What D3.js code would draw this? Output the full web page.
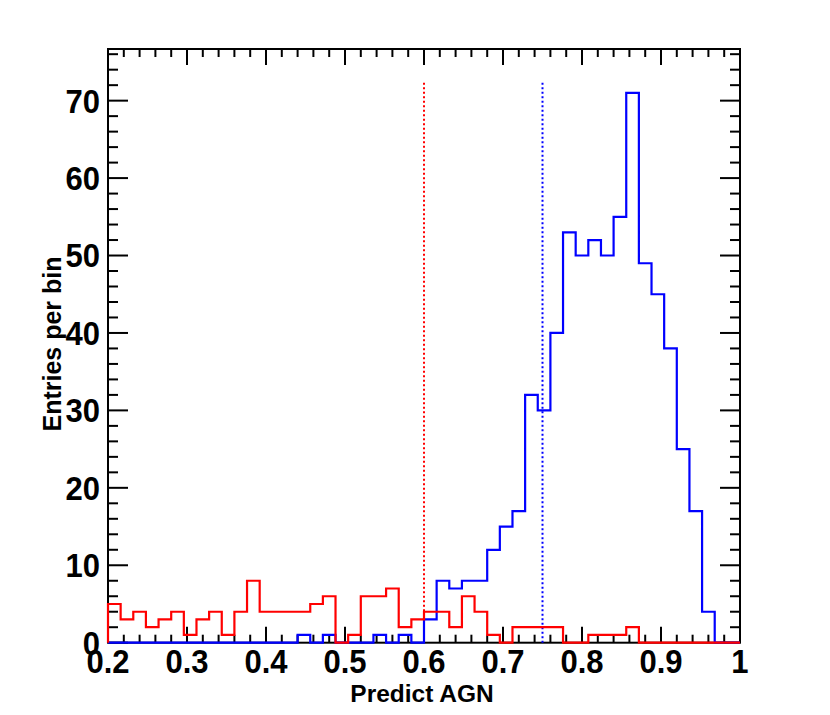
<!DOCTYPE html>
<html>
<head>
<meta charset="utf-8">
<script src="https://cdn.jsdelivr.net/npm/d3@7"></script>
<style>
  html, body { margin: 0; padding: 0; background: #fff; }
  text { font-family: "Liberation Sans", Arial, Helvetica, sans-serif; font-weight: bold; fill: #000; }
</style>
</head>
<body>
<svg id="chart" width="830" height="715"></svg>
<script>
// ---- data ----
const binStart = 0.2;
const binWidth = 0.016;
const redCounts = [5,3,4,2,3,4,1,3,4,1,4,8,4,4,4,4,5,6,0,1,6,6,7,2,3,4,4,2,6,4,1,0,2,2,2,2,0,0,1,1,1,2,0,0,0,0,0,0,0,0];
const blueCounts = [0,0,0,0,0,0,0,0,0,0,0,0,0,0,0,1,0,1,0,0,0,1,0,1,0,3,8,7,8,8,12,15,17,32,30,40,53,50,52,50,55,71,49,45,38,25,17,4,0,0];
const cutLines = [ {x: 0.6, top: 72.6, color: "red"}, {x: 0.75, top: 72.6, color: "blue"} ];
const xMajorTicks = [0.2,0.3,0.4,0.5,0.6,0.7,0.8,0.9,1.0];
const xTickLabels = ["0.2","0.3","0.4","0.5","0.6","0.7","0.8","0.9","1"];
const yMajorTicks = [0,10,20,30,40,50,60,70];
const yTickLabels = ["0","10","20","30","40","50","60","70"];
const xTitle = "Predict AGN";
const yTitle = "Entries per bin";

// ---- layout ----
const L = 108, R = 740, T = 49, B = 642.7;
const svg = d3.select("#chart");
const x = d3.scaleLinear().domain([0.2, 1.0]).range([L, R]);
const y = d3.scaleLinear().domain([0, 76.67]).range([B, T]);

const xMinor = d3.range(0.2, 1.0001, 0.02).filter(v => !xMajorTicks.some(m => Math.abs(m - v) < 1e-6));
const yMinor = d3.range(0, 76.6, 2).filter(v => v % 10 !== 0);

// frame
svg.append("rect").attr("x", L).attr("y", T).attr("width", R - L).attr("height", B - T)
  .attr("fill", "none").attr("stroke", "#000").attr("stroke-width", 2);

const tickG = svg.append("g").attr("stroke", "#000").attr("stroke-width", 2);
xMajorTicks.forEach(v => {
  tickG.append("line").attr("x1", x(v)).attr("x2", x(v)).attr("y1", B).attr("y2", B - 16);
  tickG.append("line").attr("x1", x(v)).attr("x2", x(v)).attr("y1", T).attr("y2", T + 16);
});
xMinor.forEach(v => {
  tickG.append("line").attr("x1", x(v)).attr("x2", x(v)).attr("y1", B).attr("y2", B - 8);
  tickG.append("line").attr("x1", x(v)).attr("x2", x(v)).attr("y1", T).attr("y2", T + 8);
});
yMajorTicks.forEach(v => {
  tickG.append("line").attr("x1", L).attr("x2", L + 20).attr("y1", y(v)).attr("y2", y(v));
  tickG.append("line").attr("x1", R).attr("x2", R - 20).attr("y1", y(v)).attr("y2", y(v));
});
yMinor.forEach(v => {
  tickG.append("line").attr("x1", L).attr("x2", L + 10).attr("y1", y(v)).attr("y2", y(v));
  tickG.append("line").attr("x1", R).attr("x2", R - 10).attr("y1", y(v)).attr("y2", y(v));
});

// tick labels (slightly condensed, like the Helvetica bold of the reference)
svg.append("g").selectAll("text").data(xMajorTicks).join("text")
  .attr("transform", d => `translate(${x(d)},673) scale(0.94,1)`).attr("text-anchor", "middle")
  .attr("font-size", 33).text((d, i) => xTickLabels[i]);
svg.append("g").selectAll("text").data(yMajorTicks).join("text")
  .attr("transform", d => `translate(100,${y(d)}) scale(0.94,1)`).attr("dy", "0.36em").attr("text-anchor", "end")
  .attr("font-size", 33).text((d, i) => yTickLabels[i]);

// axis titles
svg.append("text").attr("x", 422).attr("y", 702).attr("text-anchor", "middle")
  .attr("font-size", 24.5).text(xTitle);
svg.append("text").attr("transform", "translate(61,344) rotate(-90)").attr("text-anchor", "middle")
  .attr("font-size", 25).text(yTitle);

// cut lines
cutLines.forEach(c => {
  svg.append("line").attr("x1", x(c.x)).attr("x2", x(c.x)).attr("y1", y(0)).attr("y2", y(c.top))
    .attr("stroke", c.color).attr("stroke-width", 2).attr("stroke-dasharray", "2,2.5");
});

// histograms
function stepPoints(counts) {
  const pts = [[binStart, 0]];
  counts.forEach((c, i) => {
    pts.push([binStart + i * binWidth, c]);
    pts.push([binStart + (i + 1) * binWidth, c]);
  });
  pts.push([binStart + counts.length * binWidth, 0]);
  return pts;
}
const line = d3.line().x(d => x(d[0])).y(d => y(d[1]));
svg.append("path").attr("d", line(stepPoints(blueCounts))).attr("fill", "none")
  .attr("stroke", "blue").attr("stroke-width", 2.2);
svg.append("path").attr("d", line(stepPoints(redCounts))).attr("fill", "none")
  .attr("stroke", "red").attr("stroke-width", 2.2);
</script>
</body>
</html>
